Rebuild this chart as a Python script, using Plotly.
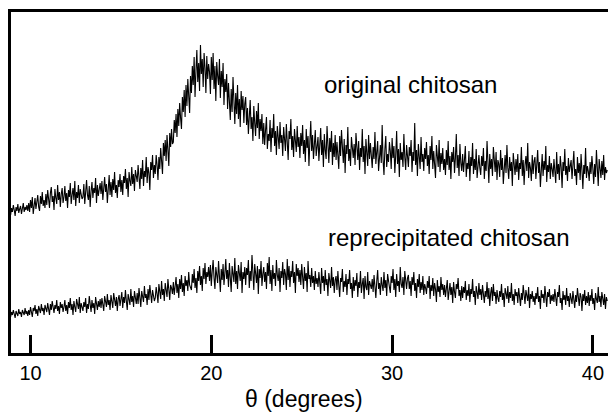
import numpy as np
import plotly.graph_objects as go

# X-ray diffraction patterns (intensity in arbitrary units), theta from 8.9 deg in 0.05 deg steps
theta_start = 8.9
theta_step = 0.05

original_chitosan = [
    140, 147, 143, 150, 145, 139, 148, 144, 151, 142, 146, 149, 141, 147, 152, 143, 148, 145, 150, 144,
    152, 143, 155, 147, 158, 141, 150, 157, 146, 153, 160, 148, 144, 159, 151, 163, 149, 155, 147, 161,
    150, 165, 156, 147, 162, 168, 153, 159, 145, 166, 157, 151, 170, 155, 163, 148, 161, 167, 152, 158,
    169, 154, 162, 147, 165, 158, 172, 151, 160, 167, 155, 174, 149, 163, 157, 170, 152, 166, 161, 156,
    158, 171, 151, 166, 175, 160, 155, 169, 148, 164, 173, 157, 167, 162, 177, 152, 170, 159, 165, 172,
    161, 174, 155, 169, 178, 163, 171, 152, 166, 180, 160, 173, 158, 176, 165, 183, 162, 170, 157, 175,
    168, 181, 163, 175, 160, 179, 172, 186, 166, 177, 158, 183, 174, 169, 188, 171, 181, 164, 185, 176,
    173, 190, 180, 166, 187, 176, 195, 169, 184, 178, 198, 172, 188, 182, 165, 193, 185, 200, 177, 190,
    181, 200, 190, 175, 198, 186, 207, 193, 181, 212, 199, 215, 194, 220, 203, 189, 222, 208, 226, 211,
    213, 235, 222, 241, 218, 246, 229, 252, 237, 226, 258, 243, 265, 238, 270, 249, 276, 256, 242, 279,
    262, 289, 270, 298, 258, 284, 305, 273, 292, 264, 310, 281, 296, 268, 302, 287, 262, 299, 276, 291,
    283, 261, 298, 275, 302, 266, 289, 254, 293, 279, 270, 296, 257, 284, 268, 292, 250, 276, 263, 281,
    246, 272, 252, 235, 266, 243, 278, 250, 231, 262, 241, 270, 236, 256, 228, 264, 245, 259, 232, 251,
    258, 230, 247, 221, 242, 255, 226, 238, 214, 249, 232, 219, 244, 227, 252, 216, 236, 224, 241, 211,
    232, 210, 225, 238, 206, 221, 214, 235, 203, 227, 217, 241, 209, 224, 200, 229, 218, 206, 233, 212,
    220, 199, 228, 213, 204, 231, 210, 195, 224, 216, 236, 205, 219, 198, 226, 212, 203, 229, 208, 218,
    197, 222, 209, 230, 201, 215, 193, 226, 207, 219, 189, 213, 234, 204, 220, 196, 211, 225, 199, 214,
    218, 194, 210, 227, 200, 215, 188, 221, 205, 196, 229, 209, 192, 217, 203, 224, 190, 212, 198, 220,
    195, 213, 203, 186, 219, 199, 225, 207, 192, 216, 182, 210, 201, 228, 194, 206, 189, 218, 204, 197,
    211, 190, 222, 203, 195, 214, 185, 207, 198, 226, 193, 209, 181, 216, 202, 189, 220, 196, 212, 200,
    187, 208, 196, 223, 191, 203, 214, 184, 199, 210, 192, 230, 195, 180, 206, 219, 188, 201, 193, 213,
    204, 186, 217, 197, 209, 182, 200, 224, 191, 206, 178, 212, 195, 203, 188, 221, 198, 185, 210, 194,
    188, 208, 199, 215, 183, 203, 194, 232, 190, 205, 179, 211, 197, 186, 218, 193, 201, 184, 207, 196,
    213, 189, 200, 181, 209, 195, 219, 186, 204, 192, 177, 210, 198, 188, 215, 183, 202, 191, 207, 185,
    196, 180, 205, 190, 214, 185, 199, 176, 203, 193, 208, 182, 197, 221, 187, 200, 179, 211, 192, 184,
    201, 183, 195, 209, 178, 192, 186, 204, 174, 198, 189, 212, 181, 196, 185, 206, 177, 193, 200, 187,
    180, 199, 189, 207, 176, 194, 184, 214, 190, 172, 201, 186, 196, 179, 208, 188, 183, 203, 175, 195,
    191, 178, 205, 185, 197, 171, 189, 200, 182, 210, 187, 176, 198, 184, 193, 169, 202, 188, 180, 196,
    183, 201, 175, 192, 186, 208, 179, 195, 170, 190, 199, 184, 212, 177, 193, 187, 174, 200, 181, 194,
    198, 176, 189, 205, 182, 193, 168, 187, 201, 179, 194, 185, 209, 173, 190, 183, 199, 176, 192, 186,
    178, 196, 185, 172, 203, 181, 191, 175, 199, 188, 167, 193, 184, 206, 180, 189, 174, 197, 183, 190,
    195, 176, 188, 204, 179, 186, 170, 198, 182, 192, 175, 201, 185, 166, 190, 181, 207, 177, 189, 184,
    174, 193, 181, 199, 187, 171, 191, 178, 205, 183, 169, 196, 186, 177, 194, 180, 200, 175, 188, 182,
    185,
]

reprecipitated_chitosan = [
    38, 43, 40, 45, 41, 37, 44, 42, 39, 46, 41, 43, 38, 45, 42, 40, 47, 41, 44, 39,
    45, 40, 48, 43, 38, 47, 44, 50, 41, 46, 39, 49, 45, 42, 51, 44, 47, 40, 50, 46,
    43, 52, 47, 40, 51, 45, 54, 48, 42, 50, 46, 55, 44, 49, 41, 53, 47, 51, 43, 48,
    55, 44, 50, 41, 53, 47, 57, 45, 51, 40, 54, 48, 43, 56, 49, 46, 58, 42, 52, 47,
    44, 53, 48, 57, 42, 51, 46, 59, 49, 43, 55, 47, 52, 41, 58, 50, 45, 54, 48, 56,
    47, 57, 51, 44, 59, 53, 48, 61, 50, 55, 45, 60, 52, 47, 62, 54, 49, 58, 44, 56,
    60, 49, 56, 63, 47, 58, 52, 65, 54, 45, 61, 55, 50, 66, 53, 59, 48, 64, 56, 51,
    62, 51, 67, 56, 48, 64, 58, 53, 69, 57, 61, 50, 66, 55, 70, 59, 52, 65, 60, 54,
    57, 68, 61, 52, 71, 63, 56, 74, 60, 66, 54, 72, 62, 58, 76, 64, 55, 70, 67, 61,
    73, 60, 68, 78, 62, 71, 57, 76, 66, 80, 63, 72, 59, 79, 69, 75, 64, 83, 70, 67,
    65, 81, 72, 86, 67, 77, 62, 84, 74, 89, 70, 79, 64, 87, 76, 92, 71, 83, 78, 88,
    74, 90, 69, 84, 95, 77, 66, 88, 80, 72, 94, 79, 63, 86, 75, 91, 70, 82, 96, 76,
    85, 68, 92, 77, 63, 89, 81, 73, 97, 71, 84, 66, 90, 79, 74, 93, 62, 83, 76, 88,
    70, 87, 80, 95, 67, 84, 74, 100, 78, 65, 91, 82, 72, 89, 61, 86, 77, 94, 69, 81,
    88, 73, 83, 66, 92, 79, 98, 71, 85, 64, 90, 76, 82, 69, 95, 80, 74, 87, 63, 84,
    77, 93, 70, 86, 81, 65, 96, 75, 89, 68, 84, 78, 94, 72, 83, 62, 91, 79, 87, 73,
    85, 70, 91, 78, 66, 88, 74, 82, 63, 94, 76, 80, 68, 87, 72, 79, 65, 84, 71, 77,
    68, 83, 74, 61, 87, 72, 79, 64, 85, 70, 76, 59, 82, 73, 67, 88, 69, 78, 62, 75,
    79, 65, 84, 70, 58, 77, 73, 86, 63, 74, 68, 81, 60, 76, 71, 85, 66, 72, 57, 78,
    64, 75, 69, 82, 58, 73, 67, 84, 62, 71, 77, 56, 79, 68, 65, 83, 60, 74, 70, 66,
    76, 63, 80, 69, 57, 74, 85, 66, 72, 60, 78, 70, 64, 83, 67, 75, 59, 81, 71, 68,
    62, 79, 72, 86, 65, 76, 58, 81, 69, 74, 63, 88, 71, 67, 78, 60, 84, 73, 66, 77,
    80, 66, 74, 59, 78, 70, 83, 64, 72, 57, 76, 68, 81, 62, 73, 65, 79, 60, 71, 67,
    61, 74, 67, 79, 56, 70, 64, 77, 59, 72, 66, 53, 75, 63, 69, 58, 78, 65, 71, 60,
    70, 58, 67, 75, 55, 64, 72, 60, 68, 52, 73, 63, 57, 71, 66, 77, 59, 65, 54, 69,
    57, 68, 62, 74, 55, 65, 59, 71, 53, 66, 61, 76, 58, 64, 50, 69, 63, 56, 72, 60,
    66, 55, 70, 61, 52, 64, 58, 73, 56, 67, 49, 62, 68, 54, 71, 59, 63, 51, 65, 57,
    53, 64, 58, 71, 55, 62, 48, 67, 60, 56, 69, 52, 63, 57, 72, 54, 61, 50, 66, 59,
    63, 52, 67, 57, 49, 62, 55, 70, 58, 51, 65, 60, 54, 68, 47, 61, 56, 64, 53, 59,
    50, 62, 56, 68, 53, 59, 46, 65, 57, 61, 52, 69, 55, 48, 63, 58, 66, 51, 60, 54,
    61, 53, 66, 56, 49, 63, 58, 70, 52, 57, 45, 64, 55, 60, 50, 67, 54, 59, 48, 62,
    57, 51, 64, 55, 47, 60, 53, 67, 56, 49, 62, 58, 44, 61, 54, 65, 50, 59, 52, 63,
    49, 60, 54, 66, 51, 57, 45, 62, 56, 52, 68, 53, 59, 48, 63, 55, 50, 61, 46, 58,
    54,
]

tick_values = [10, 20, 30, 41.11]
tick_labels = ["10", "20", "30", "40"]
label_original = "original chitosan"
label_reprecipitated = "reprecipitated chitosan"
x_title = "θ (degrees)"

theta_orig = np.round(theta_start + theta_step * np.arange(len(original_chitosan)), 3)
theta_rep = np.round(theta_start + theta_step * np.arange(len(reprecipitated_chitosan)), 3)

FONT = "Liberation Sans, Arial, sans-serif"

fig = go.Figure()
fig.add_trace(go.Scatter(x=theta_orig, y=original_chitosan, mode="lines",
                         line=dict(color="black", width=1.1), name=label_original,
                         showlegend=False))
fig.add_trace(go.Scatter(x=theta_rep, y=reprecipitated_chitosan, mode="lines",
                         line=dict(color="black", width=1.1), name=label_reprecipitated,
                         showlegend=False))

fig.add_annotation(x=26.13, y=271, xref="x", yref="y", text=label_original,
                   showarrow=False, xanchor="left", yanchor="middle",
                   font=dict(family=FONT, size=24, color="black"))
fig.add_annotation(x=26.35, y=118, xref="x", yref="y", text=label_reprecipitated,
                   showarrow=False, xanchor="left", yanchor="middle",
                   font=dict(family=FONT, size=24, color="black"))
fig.add_annotation(x=0.491, y=-0.135, xref="paper", yref="paper", text=x_title,
                   showarrow=False, xanchor="center", yanchor="middle",
                   font=dict(family=FONT, size=23, color="black"))

fig.update_layout(
    width=608, height=413,
    margin=dict(l=11, r=0, t=12, b=60),
    paper_bgcolor="white", plot_bgcolor="white",
    xaxis=dict(range=[8.921, 41.94], showgrid=False, zeroline=False,
               showline=True, linecolor="black", linewidth=3, mirror=True,
               ticks="inside", ticklen=18, tickwidth=3, tickcolor="black",
               tickvals=tick_values, ticktext=tick_labels,
               tickfont=dict(family=FONT, size=20, color="black")),
    yaxis=dict(range=[2, 343], showgrid=False, zeroline=False,
               showline=True, linecolor="black", linewidth=3, mirror=False,
               showticklabels=False, ticks=""),
)

fig.write_html("out.html", config={"displayModeBar": False},
               post_script="document.body.style.margin='0';")
